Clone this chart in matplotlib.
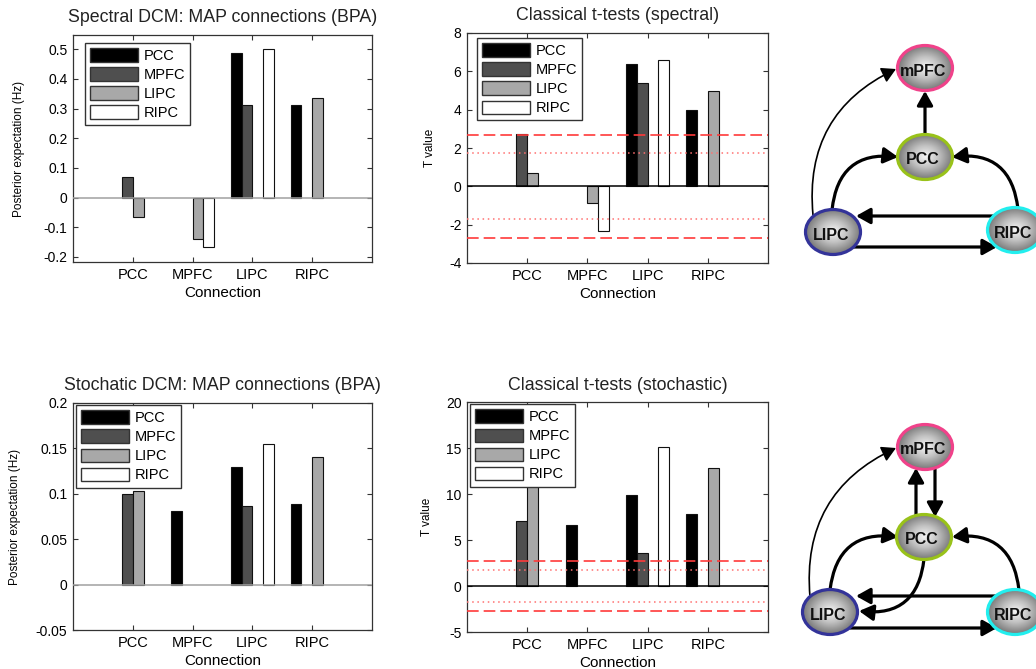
import numpy as np
import matplotlib
matplotlib.use("Agg")
import matplotlib.pyplot as plt
from matplotlib.patches import Ellipse, FancyArrowPatch
from matplotlib.colors import LinearSegmentedColormap

plt.rcParams['font.family'] = ['Liberation Sans', 'DejaVu Sans']

connections = ["PCC", "MPFC", "LIPC", "RIPC"]
sources = ["PCC", "MPFC", "LIPC", "RIPC"]

# rows = source region (legend), cols = connection (x groups)
spectral_bpa = [
    [0, 0, 0.487, 0.313],
    [0.071, 0, 0.313, 0],
    [-0.064, -0.140, 0, 0.335],
    [0, -0.165, 0.500, 0],
]
spectral_t = [
    [0, 0, 6.39, 3.98],
    [2.72, 0, 5.38, 0],
    [0.69, -0.87, 0, 4.96],
    [0, -2.35, 6.57, 0],
]
stochastic_bpa = [
    [0, 0.081, 0.129, 0.089],
    [0.100, 0, 0.087, 0],
    [0.103, 0, 0, 0.140],
    [0, 0, 0.155, 0],
]
stochastic_t = [
    [0, 6.6, 9.93, 7.82],
    [7.09, 0, 3.6, 0],
    [12.0, 0, 0, 12.84],
    [0, 0, 15.16, 0],
]
t_crit = 2.7      # dashed threshold
t_crit_unc = 1.72 # dotted threshold

bpa_ticks_spec = [-0.2, -0.1, 0, 0.1, 0.2, 0.3, 0.4, 0.5]
bpa_ticks_stoch = [-0.05, 0, 0.05, 0.1, 0.15, 0.2]
t_ticks_spec = [-4, -2, 0, 2, 4, 6, 8]
t_ticks_stoch = [-5, 0, 5, 10, 15, 20]

bar_colors = ["#000000", "#4f4f4f", "#a8a8a8", "#ffffff"]
offsets = [-0.27, -0.09, 0.09, 0.27]

W, H = 1036, 669
fig = plt.figure(figsize=(W / 100, H / 100), dpi=100)


def ax_rect(left, top, right, bottom):
    return [left / W, 1 - bottom / H, (right - left) / W, (bottom - top) / H]


def bar_panel(rect, data, title, ylabel, ylim, yticks, zero_color, legend_anchor,
              ylabelpad, thresholds=False):
    ax = fig.add_axes(rect)
    x = np.arange(1, 5)
    handles = []
    for i, (name, vals) in enumerate(zip(sources, data)):
        vals = np.array(vals, dtype=float)
        keep = vals != 0
        ax.bar(x[keep] + offsets[i], vals[keep], width=0.18, color=bar_colors[i],
               edgecolor="#111111", linewidth=0.8, zorder=3)
        handles.append(plt.Rectangle((0, 0), 1, 1, facecolor=bar_colors[i],
                                     edgecolor="#333333", linewidth=1.0))
    ax.axhline(0, color=zero_color, lw=1.1, zorder=4)
    if thresholds:
        for s in (1, -1):
            ax.axhline(s * t_crit, color="#ff3a3a", lw=1.2, ls=(0, (7, 3)), zorder=5)
            ax.axhline(s * t_crit_unc, color="#ff7070", lw=1.1, ls=(0, (1, 2.4)), zorder=5)
    ax.set_xlim(0, 5)
    ax.set_ylim(*ylim)
    ax.set_xticks(x)
    ax.set_xticklabels(connections, fontsize=10.5)
    ax.set_yticks(yticks)
    ax.set_yticklabels([f"{v:g}" for v in yticks], fontsize=10)
    ax.tick_params(direction="in", length=3.5, top=True, right=True, color="#333333", pad=4)
    for sp in ax.spines.values():
        sp.set_color("#333333")
        sp.set_linewidth(0.9)
    ax.set_xlabel("Connection", fontsize=11, labelpad=3)
    ax.set_ylabel(ylabel, fontsize=8.5, labelpad=ylabelpad)
    ax.set_title(title, fontsize=12.8, color="#222222", pad=9)
    leg = ax.legend(handles, sources, loc="upper left", bbox_to_anchor=legend_anchor,
                    borderaxespad=0, fontsize=10.5, handlelength=3.3, handleheight=1.05,
                    labelspacing=0.3, handletextpad=0.35, borderpad=0.35,
                    fancybox=False, framealpha=1, edgecolor="#333333")
    leg.get_frame().set_linewidth(1.0)
    leg.set_zorder(10)
    return ax


bar_panel(ax_rect(73, 35, 372, 262), spectral_bpa, "Spectral DCM: MAP connections (BPA)",
          "Posterior expectation (Hz)", (-0.217, 0.548), bpa_ticks_spec, "#a0a0a0",
          (0.04, 0.965), 13)
bar_panel(ax_rect(467, 33, 768, 263), spectral_t, "Classical t-tests (spectral)",
          "T value", (-4, 8), t_ticks_spec, "#000000", (0.033, 0.978), 9, thresholds=True)
bar_panel(ax_rect(73, 403, 372, 630), stochastic_bpa, "Stochatic DCM: MAP connections (BPA)",
          "Posterior expectation (Hz)", (-0.05, 0.2), bpa_ticks_stoch, "#a0a0a0",
          (0.01, 0.99), 11)
bar_panel(ax_rect(467, 402, 768, 632), stochastic_t, "Classical t-tests (stochastic)",
          "T value", (-5, 20), t_ticks_stoch, "#000000", (0.01, 0.99), 9, thresholds=True)

# network diagrams drawn in pixel coordinates
ov = fig.add_axes([0, 0, 1, 1])
ov.set_xlim(0, W)
ov.set_ylim(H, 0)
ov.axis("off")
ov.patch.set_alpha(0)

node_cmap = LinearSegmentedColormap.from_list("node", ["#f6f6f6", "#c0c0c0", "#7a7a7a"])
node_edges = {"mPFC": "#f0428a", "PCC": "#99c21a", "LIPC": "#333399", "RIPC": "#22eeee"}

top_nodes = {"mPFC": (925, 68), "PCC": (925, 157), "LIPC": (833, 232), "RIPC": (1015, 230)}
bot_nodes = {"mPFC": (925, 447), "PCC": (924, 537), "LIPC": (830, 612), "RIPC": (1015, 612)}

# (start, end, rad, thick)
top_edges = [
    ((813, 215), (896, 69), -0.35, False),
    ((925, 136), (925, 91), 0, True),
    ((832, 210), (898, 157), -0.5, True),
    ((1018, 209), (952, 157), 0.5, True),
    ((1000, 216), (856, 216), 0, True),
    ((852, 247), (997, 247), 0, True),
]
bot_edges = [
    ((810, 597), (896, 448), -0.35, False),
    ((916, 517), (916, 468), 0, True),
    ((935, 467), (935, 517), 0, True),
    ((830, 590), (898, 537), -0.5, True),
    ((1019, 590), (952, 537), 0.5, True),
    ((924, 559), (859, 611), -0.5, True),
    ((1000, 596), (856, 596), 0, True),
    ((850, 628), (997, 628), 0, True),
]


def draw_graph(nodes, edges):
    for (a, b, rad, thick) in edges:
        arr = FancyArrowPatch(a, b, connectionstyle=f"arc3,rad={rad}",
                              arrowstyle="-|>,head_length=0.5,head_width=0.28",
                              mutation_scale=17, lw=2.3 if thick else 1.2,
                              color="black", shrinkA=0, shrinkB=0, zorder=2)
        ov.add_patch(arr)
    yy, xx = np.mgrid[-1:1:80j, -1:1:80j]
    r = np.sqrt(xx ** 2 + yy ** 2)
    for name, (cx, cy) in nodes.items():
        w, h = 55, 45
        e = Ellipse((cx, cy), w, h, facecolor="none", edgecolor=node_edges[name], lw=2.3, zorder=5)
        ov.add_patch(e)
        im = ov.imshow(r, cmap=node_cmap, vmin=0, vmax=1.0, zorder=4, interpolation="bilinear",
                       extent=[cx - w / 2, cx + w / 2, cy + h / 2, cy - h / 2])
        im.set_clip_path(e)
        ov.text(cx - 2, cy + 3, name, ha="center", va="center", fontsize=11.5,
                fontweight="bold", color="#111111", zorder=6)


draw_graph(top_nodes, top_edges)
draw_graph(bot_nodes, bot_edges)
ov.set_aspect("auto")
ov.set_xlim(0, W)
ov.set_ylim(H, 0)

fig.savefig("out.png", dpi=100)
